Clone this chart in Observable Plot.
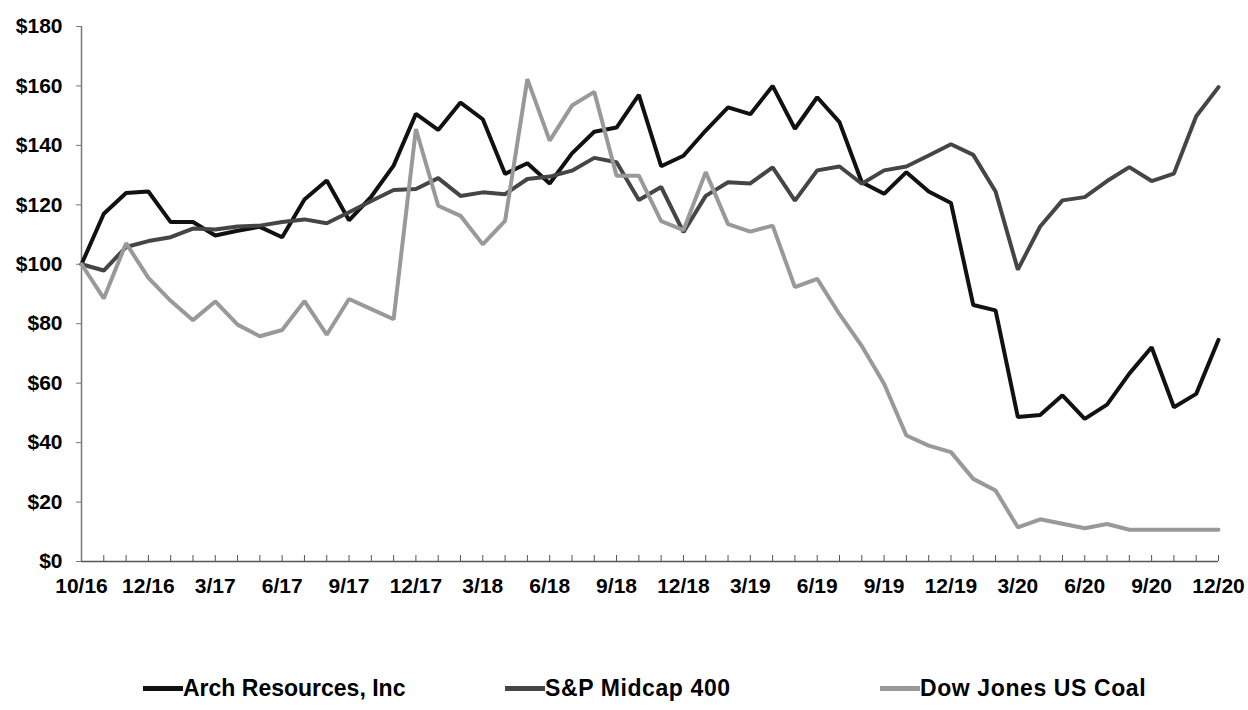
<!DOCTYPE html>
<html>
<head>
<meta charset="utf-8">
<script src="https://cdn.jsdelivr.net/npm/d3@7"></script>
<script src="https://cdn.jsdelivr.net/npm/@observablehq/plot@0.6"></script>
<style>
  body { margin: 0; background: #fff; font-family: "Liberation Sans", Arial, sans-serif; }
  #chart svg { display: block; }
  .legend { display: flex; margin-left: 143px; margin-top: 55px; font-weight: bold; font-size: 23px; line-height: 26px; color: #000; }
  .item { display: flex; align-items: center; white-space: nowrap; }
  .item:nth-child(1) { width: 362px; }
  .item:nth-child(2) { width: 375px; letter-spacing: 0.6px; }
  .item:nth-child(3) { letter-spacing: 0.6px; }
  .sw { width: 40px; height: 5px; flex: none; }
</style>
</head>
<body>
<div id="chart"></div>
<div class="legend" id="legend"></div>
<script>
// Series names and colours
const seriesNames = ["Arch Resources, Inc", "S&P Midcap 400", "Dow Jones US Coal"];
const seriesColors = ["#111111", "#454545", "#999999"];

// Values (index 0 = 10/16 start, then month-ends through 12/20)
const arch = [100, 117, 124, 124.5, 114.2, 114.2, 109.7, 111.3, 112.6, 109.1, 121.8, 128.2, 114.8, 122.8,
  133.2, 150.6, 145.2, 154.4, 148.8, 130.4, 134, 127.2, 137.3, 144.6, 146, 157, 133, 136.5, 145, 152.8,
  150.5, 160, 145.6, 156.2, 147.8, 127.6, 123.7, 131, 124.5, 120.6, 86.3, 84.5, 48.6, 49.3, 55.9, 48,
  52.8, 63.2, 72.1, 51.9, 56.4, 74.6];
const spMidcap = [100, 97.9, 105.8, 107.8, 109.1, 112, 111.7, 112.7, 113, 114.2, 115.1, 113.8, 117.5, 121.3,
  125, 125.3, 129, 123, 124.2, 123.6, 128.7, 129.5, 131.5, 135.8, 134.3, 121.6, 126, 110.8, 123, 127.6,
  127.2, 132.6, 121.4, 131.6, 132.9, 127.1, 131.6, 132.9, 136.6, 140.4, 136.8, 124.5, 98.2, 112.7, 121.5,
  122.6, 128, 132.7, 128, 130.5, 149.8, 159.6];
const djCoal = [100, 88.5, 107.1, 95.4, 87.7, 81.2, 87.5, 79.7, 75.8, 77.9, 87.6, 76.3, 88.3, 84.9,
  81.5, 145.5, 119.7, 116.3, 106.7, 114.6, 162.3, 141.6, 153.4, 158, 129.8, 129.8, 114.5, 111.5, 131, 113.5,
  111, 113, 92.3, 95.1, 83.2, 72.5, 59.8, 42.4, 39, 36.8, 27.8, 23.9, 11.5, 14.2, 12.7, 11.2, 12.6,
  10.7, 10.7, 10.7, 10.7, 10.7];

// X tick labels and their period index
const xTickLabels = ["10/16", "12/16", "3/17", "6/17", "9/17", "12/17", "3/18", "6/18", "9/18",
  "12/18", "3/19", "6/19", "9/19", "12/19", "3/20", "6/20", "9/20", "12/20"];
const xTickIndex = [0, 3, 6, 9, 12, 15, 18, 21, 24, 27, 30, 33, 36, 39, 42, 45, 48, 51];
const yTicks = [0, 20, 40, 60, 80, 100, 120, 140, 160, 180];

const allSeries = [arch, spMidcap, djCoal];
const rows = allSeries.flatMap((vals, s) => vals.map((v, i) => ({i, v, s: seriesNames[s]})));
const labelOf = new Map(xTickIndex.map((k, j) => [k, xTickLabels[j]]));

const plot = Plot.plot({
  width: 1248,
  height: 620,
  marginLeft: 81,
  marginRight: 30,
  marginTop: 26,
  marginBottom: 59,
  style: {fontFamily: "'Liberation Sans', Arial, sans-serif", fontSize: "21px", fontWeight: "bold", color: "#000", background: "#fff"},
  x: {domain: [0, arch.length - 1]},
  y: {domain: [0, 180]},
  color: {domain: seriesNames, range: seriesColors},
  marks: [
    Plot.axisY({ticks: yTicks, tickSize: 5, tickPadding: 14, tickFormat: d => "$" + d, stroke: "#777", label: null}),
    Plot.axisX({ticks: d3.range(arch.length), tickSize: -6, tickFormat: () => "", stroke: "#555", label: null}),
    Plot.axisX({ticks: xTickIndex, tickSize: 0, tickPadding: 17, tickFormat: d => labelOf.get(d), label: null}),
    Plot.ruleX([0], {stroke: "#777", strokeWidth: 1.5}),
    Plot.ruleY([0], {stroke: "#555", strokeWidth: 1.5}),
    Plot.line(rows, {x: "i", y: "v", z: "s", stroke: "s", strokeWidth: 4, strokeLinejoin: "miter"})
  ]
});
document.getElementById("chart").appendChild(plot);

const legend = document.getElementById("legend");
seriesNames.forEach((name, k) => {
  const item = document.createElement("div");
  item.className = "item";
  const sw = document.createElement("span");
  sw.className = "sw";
  sw.style.background = seriesColors[k];
  const t = document.createElement("span");
  t.textContent = name;
  item.appendChild(sw);
  item.appendChild(t);
  legend.appendChild(item);
});
</script>
</body>
</html>
